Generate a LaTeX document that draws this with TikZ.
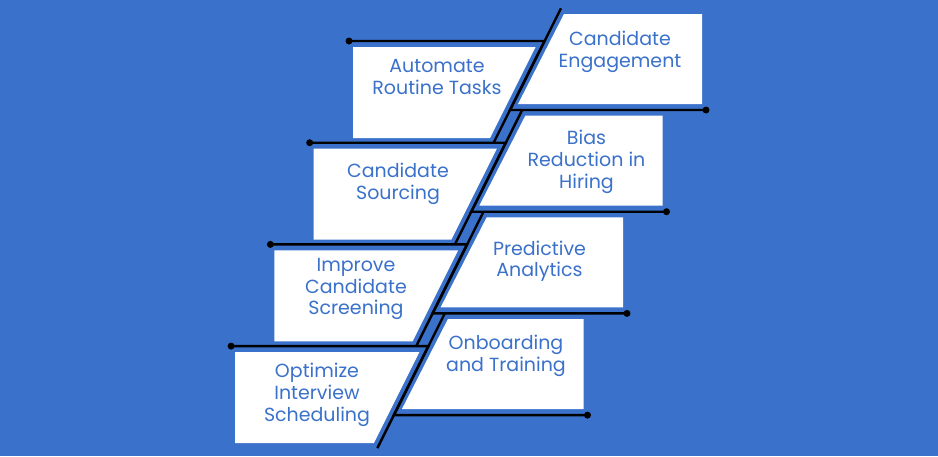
\documentclass[tikz,border=0pt]{standalone}
\usepackage{fontspec}
\setmainfont{Poppins}
\usepackage{tikz}
\usetikzlibrary{positioning, calc}
\definecolor{stepblue}{RGB}{58, 113, 202}

\begin{document}
\begin{tikzpicture}[
  x=1pt, y=-1pt,
  every node/.style={font=\fontsize{19}{21.7}\selectfont},
  card/.style={fill=white},
  rail/.style={draw=black, line width=2.4pt},
  pin/.style={circle, fill=black, inner sep=0pt, minimum size=7pt},
  lbl/.style={text=stepblue, align=center, inner sep=0pt, anchor=north}
]

  % Sfondo
  \fill[stepblue] (0,0) rectangle (938,456);
  \useasboundingbox (0,0) rectangle (938,456);

  % Riquadri a destra
  \fill[card] (564,14) -- (702,14) -- (702,104) -- (518,104) -- cycle;
  \fill[card] (525.3,115.7) -- (662.5,115.7) -- (662.5,205.7) -- (479.3,205.7) -- cycle;
  \fill[card] (486.6,217.4) -- (623,217.4) -- (623,307.4) -- (440.6,307.4) -- cycle;
  \fill[card] (447.9,319.1) -- (583.5,319.1) -- (583.5,409.1) -- (401.9,409.1) -- cycle;

  % Riquadri a sinistra
  \fill[card] (353,47) -- (535.5,47) -- (490,138) -- (353,138) -- cycle;
  \fill[card] (313.7,148.7) -- (496.8,148.7) -- (451.3,239.7) -- (313.7,239.7) -- cycle;
  \fill[card] (274.4,250.4) -- (458.1,250.4) -- (412.6,341.4) -- (274.4,341.4) -- cycle;
  \fill[card] (235.1,352.1) -- (419.4,352.1) -- (373.9,443.1) -- (235.1,443.1) -- cycle;

  % Testi
  \node[lbl] (engage) at (620,31) {Candidate\\Engagement};
  \node[lbl] (bias) at (586.5,130) {Bias\\Reduction in\\Hiring};
  \node[lbl] (predict) at (539.5,240.5) {Predictive\\Analytics};
  \node[lbl] (onboard) at (506,335) {Onboarding\\and Training};
  \node[lbl] (automate) at (437,59) {Automate\\Routine Tasks};
  \node[lbl] (sourcing) at (398,163) {Candidate\\Sourcing};
  \node[lbl] (screening) at (356,258) {Improve\\Candidate\\Screening};
  \node[lbl] (schedule) at (317,363) {Optimize\\Interview\\Scheduling};

  % Punti di aggancio
  \coordinate (r1top) at (561,8.3);
  \coordinate (r1knee) at (510,110);
  \node[pin] (r1dot) at (706,110) {};
  \coordinate (r2top) at (522.2,110);
  \coordinate (r2knee) at (471.3,211.7);
  \node[pin] (r2dot) at (666.5,211.7) {};
  \coordinate (r3top) at (483.5,211.7);
  \coordinate (r3knee) at (432.6,313.4);
  \node[pin] (r3dot) at (627,313.4) {};
  \coordinate (r4top) at (444.8,313.4);
  \coordinate (r4knee) at (393.9,415.1);
  \node[pin] (r4dot) at (587.5,415.1) {};

  \node[pin] (l1dot) at (349,41) {};
  \coordinate (l1join) at (544.5,41);
  \coordinate (l1foot) at (493.5,143);
  \node[pin] (l2dot) at (309.7,142.7) {};
  \coordinate (l2join) at (505.8,142.7);
  \coordinate (l2foot) at (454.8,244.7);
  \node[pin] (l3dot) at (270.4,244.4) {};
  \coordinate (l3join) at (467.1,244.4);
  \coordinate (l3foot) at (416.1,346.4);
  \node[pin] (l4dot) at (231.1,346.1) {};
  \coordinate (l4join) at (428.4,346.1);
  \coordinate (l4foot) at (377.4,448.1);

  % Linee con punto finale
  \draw[rail] (r1top) -- (r1knee) -- (r1dot.center);
  \draw[rail] (r2top) -- (r2knee) -- (r2dot.center);
  \draw[rail] (r3top) -- (r3knee) -- (r3dot.center);
  \draw[rail] (r4top) -- (r4knee) -- (r4dot.center);
  \draw[rail] (l1dot.center) -- (l1join) -- (l1foot);
  \draw[rail] (l2dot.center) -- (l2join) -- (l2foot);
  \draw[rail] (l3dot.center) -- (l3join) -- (l3foot);
  \draw[rail] (l4dot.center) -- (l4join) -- (l4foot);

\end{tikzpicture}
\end{document}
